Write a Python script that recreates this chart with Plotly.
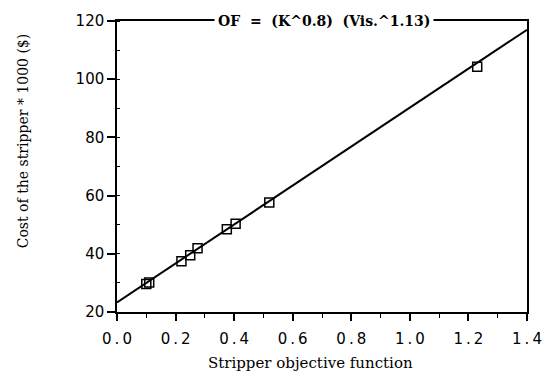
import plotly.graph_objects as go

# data
of_values = [0.10, 0.11, 0.22, 0.25, 0.275, 0.375, 0.405, 0.52, 1.23]
cost_values = [29.6, 30.1, 37.4, 39.5, 41.9, 48.4, 50.3, 57.6, 104.3]
fit_x = [0.0, 1.4]
fit_y = [23.3, 117.0]
x_ticks = [0.0, 0.2, 0.4, 0.6, 0.8, 1.0, 1.2, 1.4]
x_tick_labels = ["0.0", "0.2", "0.4", "0.6", "0.8", "1.0", "1.2", "1.4"]
y_ticks = [20, 40, 60, 80, 100, 120]
y_tick_labels = ["20", "40", "60", "80", "100", "120"]

def spaced(s):
    return "\u2009".join(s)

fig = go.Figure()
fig.add_trace(go.Scatter(x=fit_x, y=fit_y, mode="lines",
                         line=dict(color="black", width=2), showlegend=False,
                         cliponaxis=False))
fig.add_trace(go.Scatter(x=of_values, y=cost_values, mode="markers",
                         marker=dict(symbol="square-open", size=9, color="black",
                                     line=dict(width=1.5, color="black")),
                         showlegend=False, cliponaxis=False))

serif = "DejaVu Serif, Times New Roman"
fig.update_layout(
    width=554, height=383,
    margin=dict(l=117, r=22, t=14, b=71),
    paper_bgcolor="white", plot_bgcolor="white",
    xaxis=dict(range=[0, 1.4], tickvals=x_ticks, ticktext=[spaced(t) for t in x_tick_labels],
               showline=True, linecolor="black", linewidth=1.5, mirror=True,
               ticks="outside", ticklen=7, tickwidth=1.5, tickcolor="black",
               showgrid=False, zeroline=False, ticklabelstandoff=5,
               tickfont=dict(family="DejaVu Sans, Arial", size=15, color="black"),
               minor=dict(dtick=0.1, ticks="outside", ticklen=4, tickwidth=1.2, tickcolor="black")),
    yaxis=dict(range=[20, 120], tickvals=y_ticks, ticktext=y_tick_labels,
               showline=True, linecolor="black", linewidth=1.5, mirror=True,
               ticks="outside", ticklen=8, tickwidth=1.5, tickcolor="black",
               showgrid=False, zeroline=False,
               tickfont=dict(family="DejaVu Sans, Arial", size=15, color="black"),
               minor=dict(dtick=10, ticks="inside", ticklen=3, tickwidth=1.2, tickcolor="black")),
    annotations=[
        dict(text="OF\u00a0\u00a0=\u00a0\u00a0(K^0.8)\u00a0\u00a0(Vis.^1.13)",
             xref="paper", yref="paper", x=0.504, y=1.0, xanchor="center", yanchor="middle",
             showarrow=False, bgcolor="white", borderpad=3,
             font=dict(family=serif, size=14, color="black", weight="bold")),
        dict(text="Stripper objective function", xref="paper", yref="paper",
             x=(313 - 117) / 415, xanchor="center", y=-0.174, yanchor="middle",
             showarrow=False,
             font=dict(family=serif, size=15, color="black")),
        dict(text="Cost of the stripper * 1000 ($)", xref="paper", yref="paper",
             x=-0.229, xanchor="center", y=0.587, yanchor="middle", textangle=-90,
             showarrow=False,
             font=dict(family=serif, size=14, color="black")),
    ],
)
fig.write_html("out.html")
